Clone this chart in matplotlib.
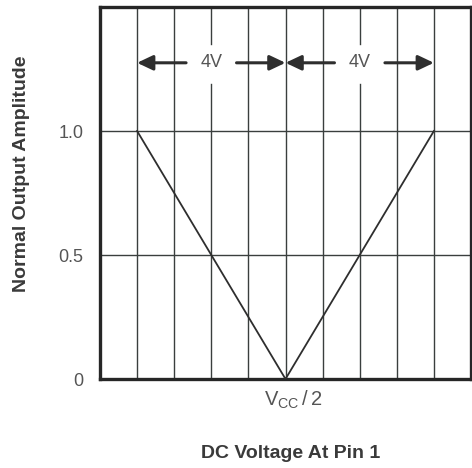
import matplotlib
matplotlib.use("Agg")
import matplotlib.pyplot as plt

plt.rcParams["font.family"] = ["Liberation Sans", "DejaVu Sans"]

# Response curve: normalised output vs DC voltage at pin 1 (1 V per division)
voltage = [1, 5, 9]
amplitude = [1.0, 0.0, 1.0]

y_ticks = [0, 0.5, 1.0]
y_tick_labels = ["0", "0.5", "1.0"]
x_grid = [1, 2, 3, 4, 5, 6, 7, 8, 9]

# Dimension arrows across the top of the chart
spans = [(1, 5), (5, 9)]
span_labels = ["4V", "4V"]
center_label = r"$\mathregular{V_{CC}\,/\,2}$"

ink = "#2e2e2e"
grid_ink = "#3a3f3e"

fig = plt.figure(figsize=(4.72, 4.68), dpi=100)
ax = fig.add_axes([100 / 472, 1 - 379 / 468, 371 / 472, 372 / 468])
ax.set_xlim(0, 10)
ax.set_ylim(0, 1.5)

arrow_y = 1.275
gap_lo, gap_hi = 1.19, 1.35
label_xs = [(a + b) / 2 for a, b in spans]

# vertical grid lines (broken where the span labels sit)
for gx in x_grid:
    if gx in label_xs:
        ax.plot([gx, gx], [0, gap_lo], color=grid_ink, lw=1.0, zorder=1)
        ax.plot([gx, gx], [gap_hi, 1.5], color=grid_ink, lw=1.0, zorder=1)
    else:
        ax.plot([gx, gx], [0, 1.5], color=grid_ink, lw=1.0, zorder=1)
for gy in y_ticks[1:]:
    ax.axhline(gy, color=grid_ink, lw=1.0, zorder=1)

ax.plot(voltage, amplitude, color=ink, lw=1.3, zorder=3)

half = 0.68
aprops = dict(arrowstyle="-|>,head_length=0.95,head_width=0.45",
              lw=2.2, color=ink, shrinkA=0, shrinkB=0)
for (a, b), lab in zip(spans, span_labels):
    m = (a + b) / 2
    ax.annotate("", xy=(a, arrow_y), xytext=(m - half, arrow_y), arrowprops=aprops, zorder=4)
    ax.annotate("", xy=(b, arrow_y), xytext=(m + half, arrow_y), arrowprops=aprops, zorder=4)
    ax.text(m, arrow_y, lab, ha="center", va="center", fontsize=13, color="#555555", zorder=5)

ax.set_xticks([])
ax.set_yticks(y_ticks)
ax.set_yticklabels(y_tick_labels, fontsize=13, color="#555555")
ax.tick_params(axis="y", length=0, pad=12)

for s in ax.spines.values():
    s.set_linewidth(2.4)
    s.set_color("#262626")

ax.text(5.2, -0.085, center_label, ha="center", va="center", fontsize=14.5, color="#555555")

fig.text(291 / 472, 1 - 454 / 468, "DC Voltage At Pin 1", ha="center", va="center",
         fontsize=14, fontweight="bold", color="#3a3a3a")
fig.text(22 / 472, 1 - 174 / 468, "Normal Output Amplitude", ha="center", va="center",
         rotation=90, fontsize=14, fontweight="bold", color="#3a3a3a")

fig.savefig("out.png", dpi=100, facecolor="white")
